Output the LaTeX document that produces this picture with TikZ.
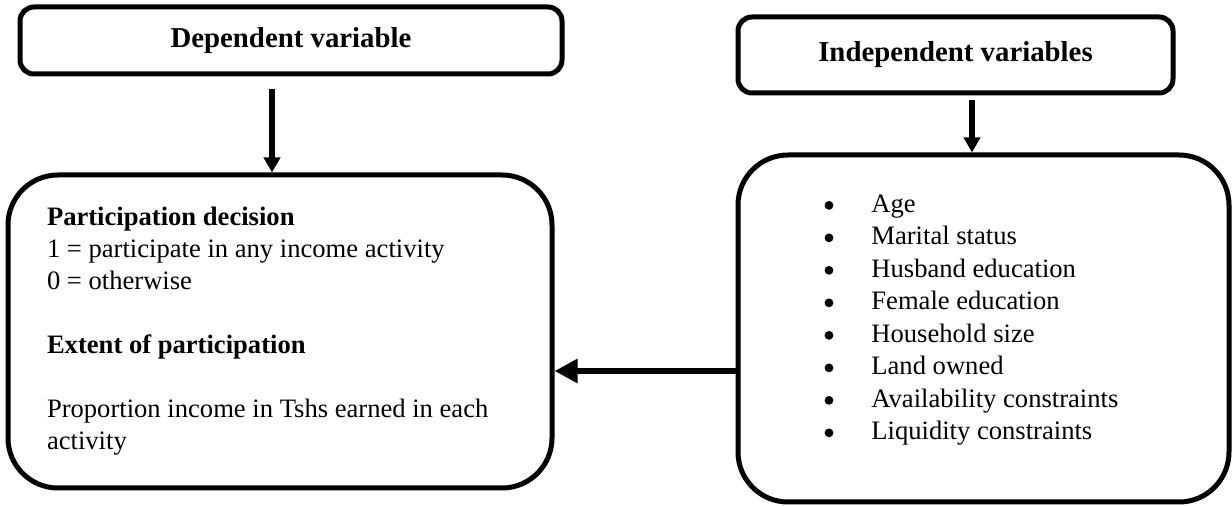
\documentclass[tikz,border=0pt]{standalone}
\usepackage{fontspec}
\setmainfont{Liberation Serif}
\usetikzlibrary{arrows.meta,positioning,shadows}
\newcommand{\listdot}{\makebox[24pt][l]{\hspace{0.6pt}\tikz[baseline=-3.4pt]\fill (0,0) circle (2.2pt);}}

\begin{document}
\begin{tikzpicture}[x=0.5pt,y=-0.5pt,
  head/.style={draw,line width=2.5pt,rounded corners=7pt,fill=white,inner sep=0pt,align=center,
    font=\fontsize{14.4}{17}\selectfont\bfseries},
  panel/.style={draw,line width=2.5pt,rounded corners=25pt,fill=white,inner sep=0pt,
    drop shadow={shadow xshift=0.7pt,shadow yshift=-0.9pt,fill=black,opacity=1}},
  body/.style={font=\fontsize{13.3}{16}\selectfont,align=flush left},
  vlink/.style={line width=2.75pt,-{Triangle[length=7.5pt,width=8pt]}},
  hlink/.style={line width=3pt,-{Triangle[length=11.5pt,width=11.5pt]}}]
  \useasboundingbox (0,0) rectangle (1232,506);
  % headings
  \node[head,minimum width=271pt,minimum height=33.5pt] (dvhead) at (291,40.5) {Dependent variable};
  \node[head,minimum width=217.5pt,minimum height=38pt] (ivhead) at (955.5,55) {Independent variables};
  % panels
  \node[panel,body,text width=233pt,inner xsep=19.5pt,minimum height=156.5pt] (dvpanel) at (280,331.5)
    {\textbf{Participation decision}\\
     1 = participate in any income activity\\
     0 = otherwise\\[16pt]
     \textbf{Extent of participation}\\[16pt]
     Proportion income in Tshs earned in each\\
     activity};
  \node[panel,minimum width=245.5pt,minimum height=173.5pt] (ivpanel) at (983.5,328.5) {};
  \node[body,font=\fontsize{13.3}{16.25}\selectfont,inner sep=0pt,anchor=west] (ivlist) at (823,320)
    {\listdot Age\\
     \listdot Marital status\\
     \listdot Husband education\\
     \listdot Female education\\
     \listdot Household size\\
     \listdot Land owned\\
     \listdot Availability constraints\\
     \listdot Liquidity constraints};
  % links
  \draw[vlink] ([xshift=-9.5pt,yshift=-6.5pt]dvhead.south) -- ([xshift=-4pt]dvpanel.north);
  \draw[vlink] ([xshift=8.25pt,yshift=-2.5pt]ivhead.south) -- ([xshift=-5.75pt]ivpanel.north);
  \draw[hlink] ([yshift=-21.25pt]ivpanel.west) coordinate (hstart) -- (hstart -| dvpanel.east);
\end{tikzpicture}
\end{document}
